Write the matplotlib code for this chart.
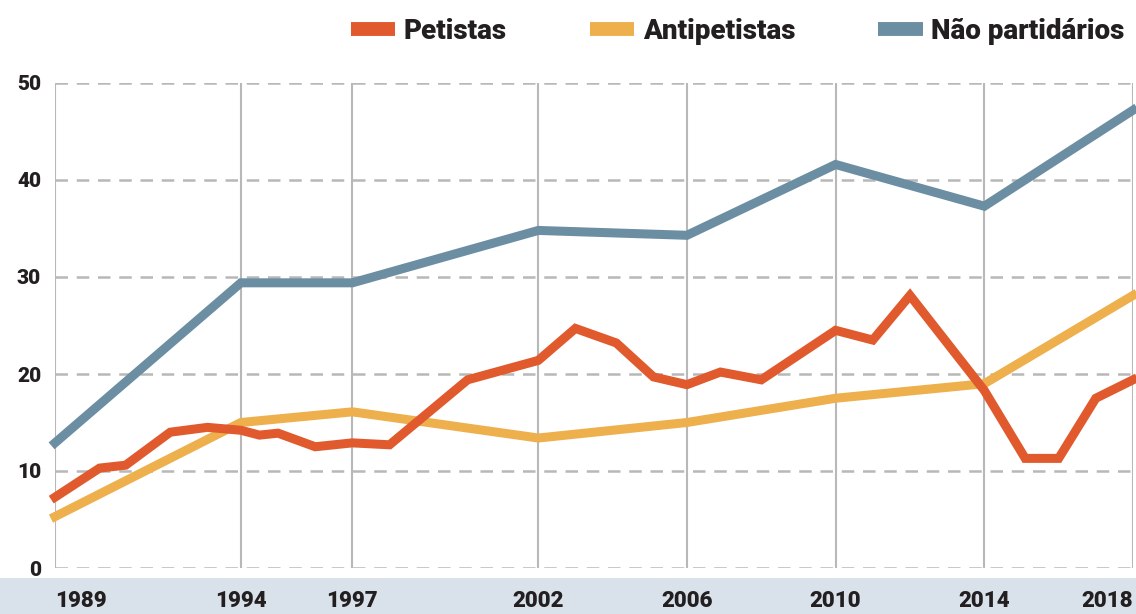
import matplotlib.pyplot as plt
from matplotlib.lines import Line2D

# Data (values in %)
nao_years = [1989, 1994, 1997, 2002, 2006, 2010, 2014, 2018]
nao_vals = [12.9, 29.4, 29.4, 34.8, 34.3, 41.6, 37.3, 47.2]

anti_years = [1989, 1994, 1997, 2002, 2006, 2010, 2014, 2018]
anti_vals = [5.3, 15.0, 16.1, 13.4, 15.0, 17.5, 19.0, 28.1]

pet_years = [1989, 1990.2, 1990.9, 1992.1, 1993.1, 1994, 1994.5, 1995, 1996,
             1997, 1998, 2000.1, 2002, 2003, 2004.1, 2005.1, 2006, 2006.9,
             2008, 2010, 2011, 2012, 2014, 2015.1, 2016, 2017, 2018]
pet_vals = [7.3, 10.3, 10.6, 14.0, 14.5, 14.2, 13.7, 13.9, 12.5,
            12.9, 12.7, 19.4, 21.4, 24.7, 23.2, 19.7, 18.9, 20.2,
            19.4, 24.5, 23.5, 28.1, 18.3, 11.3, 11.3, 17.5, 19.4]

tick_years = [1989, 1994, 1997, 2002, 2006, 2010, 2014, 2018]
y_ticks = [0, 10, 20, 30, 40, 50]

RED = '#e05a2d'
ORANGE = '#eeb04c'
BLUE = '#6b8ea2'
GRID = '#b8b8b8'
TXT = '#231f20'
FONT = ['Roboto', 'DejaVu Sans']

fig = plt.figure(figsize=(11.36, 6.14), dpi=100)
ax = fig.add_axes([55 / 1136, 46 / 614, (1133 - 55) / 1136, (568 - 83) / 614])

# bottom band behind the year labels
fig.patches.append(plt.Rectangle((0, 0), 1, 36 / 614, transform=fig.transFigure,
                                 facecolor='#d9e2ea', edgecolor='none', zorder=-1))

ax.set_xlim(1989, 2018)
ax.set_ylim(0, 50)
ax.patch.set_alpha(0)
for s in ax.spines.values():
    s.set_visible(False)

for y in y_ticks:
    ax.axhline(y, color=GRID, lw=1.8, ls=(0, (5, 3.5)), zorder=1)
for x in tick_years:
    ax.axvline(x, color=GRID, lw=1.5, zorder=1)

lw = 6.5
ax.plot(nao_years, nao_vals, color=BLUE, lw=lw, solid_joinstyle='miter', zorder=3, clip_on=False)
ax.plot(anti_years, anti_vals, color=ORANGE, lw=lw, solid_joinstyle='miter', zorder=4, clip_on=False)
ax.plot(pet_years, pet_vals, color=RED, lw=lw, solid_joinstyle='miter', zorder=5, clip_on=False)

ax.set_yticks(y_ticks)
ax.set_yticklabels([str(v) for v in y_ticks], fontsize=15, fontweight='heavy',
                   color=TXT, family=FONT)
ax.tick_params(axis='y', length=0, pad=10)

ax.set_xticks(tick_years)
ax.set_xticklabels([str(v) for v in tick_years], fontsize=16, fontweight='heavy',
                   color=TXT, family=FONT)
ax.tick_params(axis='x', length=0, pad=16)
xl = ax.get_xticklabels()
xl[0].set_ha('left')
xl[-1].set_ha('right')

handles = [Line2D([0], [0], color=RED, lw=10, solid_capstyle='butt'),
           Line2D([0], [0], color=ORANGE, lw=10, solid_capstyle='butt'),
           Line2D([0], [0], color=BLUE, lw=10, solid_capstyle='butt')]
leg = fig.legend(handles, ['Petistas', 'Antipetistas', 'Não partidários'],
                 loc='upper right', bbox_to_anchor=(1.012, 1.012), ncol=3, frameon=False,
                 handlelength=1.6, handletextpad=0.3, columnspacing=3.0,
                 prop={'family': FONT, 'weight': 'heavy', 'size': 20})
for t in leg.get_texts():
    t.set_color(TXT)

fig.savefig('out.png', dpi=100)
